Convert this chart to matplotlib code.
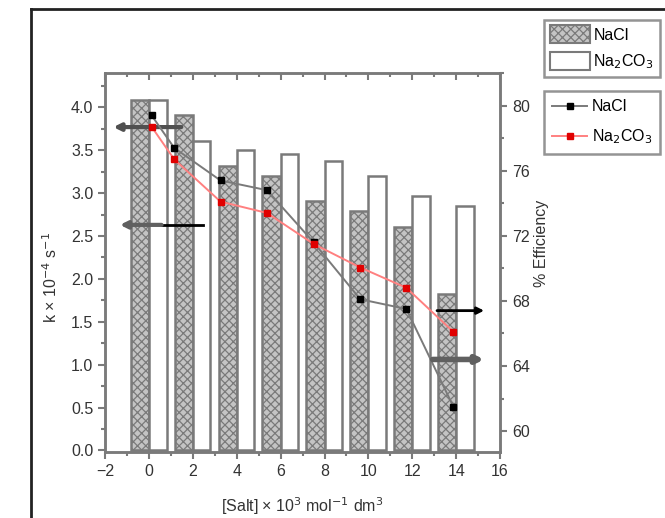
import matplotlib
matplotlib.use("Agg")
import matplotlib.pyplot as plt
from matplotlib.lines import Line2D
from matplotlib.patches import Patch
from matplotlib.ticker import MultipleLocator, FormatStrFormatter, NullFormatter

plt.rcParams['font.family'] = ['Liberation Sans', 'DejaVu Sans']
plt.rcParams['hatch.color'] = '#3a3a3a'
plt.rcParams['hatch.linewidth'] = 0.9

# bar data (left axis, k x 10^-4 s^-1)
salt = [0, 2, 4, 6, 8, 10, 12, 14]
k_nacl = [4.09, 3.91, 3.32, 3.20, 2.91, 2.79, 2.60, 1.82]
k_na2co3 = [4.09, 3.61, 3.50, 3.46, 3.38, 3.20, 2.97, 2.85]

# line data (right axis, % efficiency)
salt_eff = [0.12, 1.15, 3.26, 5.38, 7.5, 9.63, 11.73, 13.87]
eff_nacl = [79.4, 77.4, 75.4, 74.8, 71.6, 68.1, 67.5, 61.5]
eff_na2co3 = [78.7, 76.7, 74.1, 73.4, 71.5, 70.05, 68.8, 66.1]

gray = '#7a7a7a'
txt = '#333333'
fs = 11.5

fig = plt.figure(figsize=(6.65, 5.18), dpi=100)
ax = fig.add_axes([0.158, 0.127, 0.594, 0.732])
ax2 = ax.twinx()

ax.bar(salt, k_nacl, width=-0.83, align='edge', facecolor='#c4c4c4',
       edgecolor=gray, linewidth=1.8, hatch='xxxx')
ax.bar(salt, k_na2co3, width=0.8, align='edge', facecolor='white',
       edgecolor=gray, linewidth=1.8)

ax2.plot(salt_eff, eff_nacl, color='#7a7a7a', lw=1.4, marker='s', ms=4.5,
         mfc='black', mec='black')
ax2.plot(salt_eff, eff_na2co3, color='#ff8080', lw=1.4, marker='s', ms=4.5,
         mfc='#e00000', mec='#e00000')

# arrows pointing to the axis each set belongs to
ax.annotate('', xy=(-1.75, 3.77), xytext=(1.6, 3.77),
            arrowprops=dict(arrowstyle='-|>', color='#505050', lw=3, mutation_scale=10))
ax.plot([0.6, 2.44], [2.63, 2.63], color='black', lw=2)
ax.annotate('', xy=(-1.45, 2.63), xytext=(0.7, 2.63),
            arrowprops=dict(arrowstyle='-|>', color='#606060', lw=3, mutation_scale=10))
ax2.annotate('', xy=(15.4, 67.4), xytext=(13.0, 67.4),
             arrowprops=dict(arrowstyle='-|>', color='black', lw=2, mutation_scale=10))
ax2.annotate('', xy=(15.4, 64.4), xytext=(12.8, 64.4),
             arrowprops=dict(arrowstyle='-|>', color='#606060', lw=4, mutation_scale=10))

ax.set_xlim(-2, 16)
ax.set_ylim(-0.02, 4.4)
ax2.set_ylim(58.7, 82)

ax.xaxis.set_major_locator(MultipleLocator(2))
ax.xaxis.set_minor_locator(MultipleLocator(1))
ax.yaxis.set_major_locator(MultipleLocator(0.5))
ax.yaxis.set_minor_locator(MultipleLocator(0.25))
ax2.yaxis.set_major_locator(MultipleLocator(4))
ax2.yaxis.set_minor_locator(MultipleLocator(2))
ax.yaxis.set_major_formatter(FormatStrFormatter('%.1f'))

for a in (ax, ax2):
    for s in a.spines.values():
        s.set_color(gray)
        s.set_linewidth(1.8)
ax.tick_params(axis='both', which='both', color=gray, width=1.5, labelsize=fs,
               labelcolor=txt, direction='out')
ax.tick_params(which='major', length=5)
ax.tick_params(which='minor', length=3)
ax2.tick_params(axis='y', which='both', color=gray, width=1.5, labelsize=fs,
                labelcolor=txt)
ax2.tick_params(axis='y', which='major', length=5)
ax2.tick_params(axis='y', which='minor', length=3)

# inward ticks along the top edge
top = ax.secondary_xaxis('top')
top.xaxis.set_major_locator(MultipleLocator(2))
top.xaxis.set_minor_locator(MultipleLocator(1))
top.xaxis.set_major_formatter(NullFormatter())
top.tick_params(which='both', direction='in', color=gray, width=1.5)
top.tick_params(which='major', length=5)
top.tick_params(which='minor', length=3)
top.spines['top'].set_visible(False)

ax.set_xlabel('[Salt] × 10$^{3}$ mol$^{-1}$ dm$^{3}$', fontsize=fs, color=txt, labelpad=12)
ax.set_ylabel('k × 10$^{-4}$ s$^{-1}$', fontsize=fs, color=txt)
ax.yaxis.set_label_coords(-0.115, 0.46)
ax2.set_ylabel('% Efficiency', fontsize=fs, color=txt)
ax2.yaxis.set_label_coords(1.085, 0.55)

# legends
h_bars = [Patch(facecolor='#c4c4c4', edgecolor=gray, hatch='xxxx', lw=1.5),
          Patch(facecolor='white', edgecolor=gray, lw=1.5)]
leg1 = fig.legend(h_bars, ['NaCl', 'Na$_2$CO$_3$'], loc='upper left',
                  bbox_to_anchor=(0.818, 0.962), fontsize=fs, frameon=True,
                  fancybox=False, edgecolor=gray, handlelength=2.55, handleheight=1.35,
                  handletextpad=0.2, borderpad=0.35, labelspacing=0.55, borderaxespad=0)
leg1.get_frame().set_linewidth(1.8)
h_lines = [Line2D([], [], color='#7a7a7a', lw=1.4, marker='s', ms=4.5, mfc='black', mec='black'),
           Line2D([], [], color='#ff8080', lw=1.4, marker='s', ms=4.5, mfc='#e00000', mec='#e00000')]
leg2 = fig.legend(h_lines, ['NaCl', 'Na$_2$CO$_3$'], loc='upper left',
                  bbox_to_anchor=(0.818, 0.824), fontsize=fs, frameon=True,
                  fancybox=False, edgecolor=gray, handlelength=2.2,
                  handletextpad=0.3, borderpad=0.5, labelspacing=0.85, borderaxespad=0)
leg2.get_frame().set_linewidth(1.8)

# outer frame (cut off at right and bottom)
fig.add_artist(Line2D([0.047, 0.047], [0.0, 0.983], color='#222222', lw=2,
                      transform=fig.transFigure))
fig.add_artist(Line2D([0.046, 1.0], [0.983, 0.983], color='#222222', lw=2,
                      transform=fig.transFigure))

fig.savefig('out.png', dpi=100)
